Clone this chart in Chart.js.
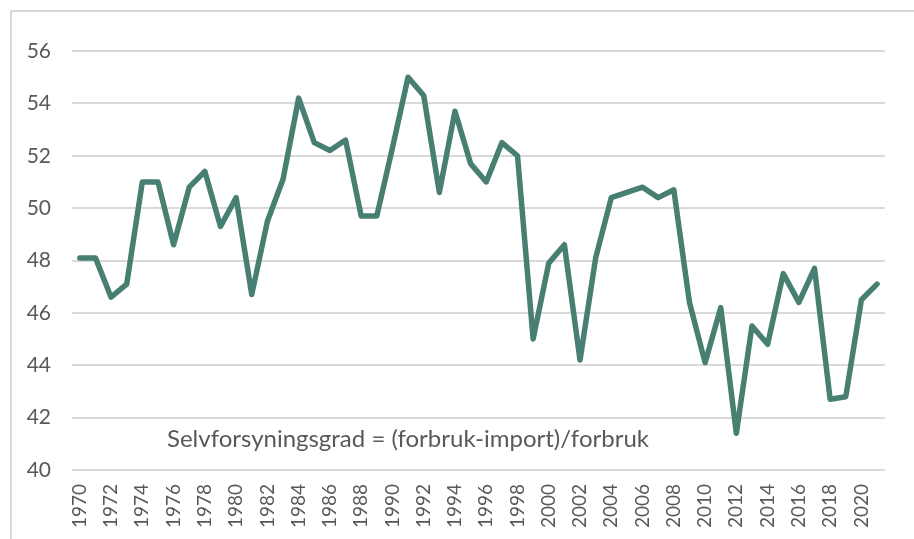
<!DOCTYPE html>
<html>
<head>
<meta charset="utf-8">
<script src="https://cdn.jsdelivr.net/npm/chart.js@4"></script>
<style>
  html, body { margin: 0; padding: 0; background: #fff; }
  #wrap { position: relative; width: 914px; height: 539px; }
</style>
</head>
<body>
<div id="wrap"><canvas id="chart" width="914" height="539"></canvas></div>
<script>
const years = [
  '1970','1971','1972','1973','1974','1975','1976','1977','1978','1979',
  '1980','1981','1982','1983','1984','1985','1986','1987','1988','1989',
  '1990','1991','1992','1993','1994','1995','1996','1997','1998','1999',
  '2000','2001','2002','2003','2004','2005','2006','2007','2008','2009',
  '2010','2011','2012','2013','2014','2015','2016','2017','2018','2019',
  '2020','2021'
];

// selvforsyningsgrad, prosent
const selfSufficiency = [
  48.1, 48.1, 46.6, 47.1, 51.0, 51.0, 48.6, 50.8, 51.4, 49.3,
  50.4, 46.7, 49.5, 51.1, 54.2, 52.5, 52.2, 52.6, 49.7, 49.7,
  52.3, 55.0, 54.3, 50.6, 53.7, 51.7, 51.0, 52.5, 52.0, 45.0,
  47.9, 48.6, 44.2, 48.1, 50.4, 50.6, 50.8, 50.4, 50.7, 46.4,
  44.1, 46.2, 41.4, 45.5, 44.8, 47.5, 46.4, 47.7, 42.7, 42.8,
  46.5, 47.1
];

const yTicks = [40, 42, 44, 46, 48, 50, 52, 54, 56];
const note = 'Selvforsyningsgrad = (forbruk-import)/forbruk';

const textGrey = '#595959';
const gridGrey = '#d9d9d9';
const lineGreen = '#487f73';

// frame + formula text
const extras = {
  id: 'extras',
  beforeDraw(chart) {
    const ctx = chart.ctx;
    ctx.save();
    ctx.fillStyle = gridGrey;
    ctx.fillRect(10, 10, 904, 2);
    ctx.fillRect(10, 10, 2, 529);
    ctx.restore();
  },
  afterDatasetsDraw(chart) {
    const ctx = chart.ctx;
    ctx.save();
    ctx.font = '24px Lato';
    ctx.fillStyle = textGrey;
    ctx.textBaseline = 'alphabetic';
    ctx.fillText(note, 167, 447);
    ctx.restore();
  }
};

new Chart(document.getElementById('chart'), {
  type: 'line',
  data: {
    labels: years,
    datasets: [{
      data: selfSufficiency,
      borderColor: lineGreen,
      borderWidth: 5.5,
      pointRadius: 0,
      tension: 0,
      borderJoinStyle: 'round',
      borderCapStyle: 'round',
      fill: false
    }]
  },
  options: {
    responsive: false,
    animation: false,
    layout: { padding: { top: 51, right: 17, bottom: 0, left: 0 } },
    plugins: { legend: { display: false }, tooltip: { enabled: false } },
    scales: {
      x: {
        offset: true,
        grid: { display: false, drawTicks: false },
        border: { display: false },
        afterFit: s => { s.height = 69; },
        ticks: {
          autoSkip: false,
          minRotation: 90,
          maxRotation: 90,
          padding: 14,
          color: textGrey,
          font: { family: 'Lato', size: 19 },
          callback: (v, i) => (i % 2 === 0 ? years[i] : '')
        }
      },
      y: {
        min: 40,
        max: 56,
        afterFit: s => { s.width = 72; },
        afterBuildTicks: s => { s.ticks = yTicks.map(v => ({ value: v })); },
        grid: { color: gridGrey, lineWidth: 2, drawTicks: false },
        border: { display: false },
        ticks: {
          padding: 21,
          color: textGrey,
          font: { family: 'Lato', size: 21 }
        }
      }
    }
  },
  plugins: [extras]
});
</script>
</body>
</html>
